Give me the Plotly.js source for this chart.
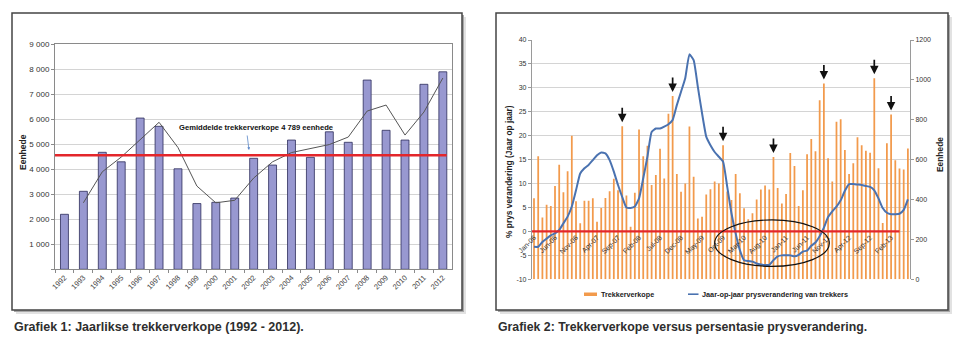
<!DOCTYPE html>
<html>
<head>
<meta charset="utf-8">
<script src="https://cdn.plot.ly/plotly-3.0.1.min.js"></script>
<style>
  html, body { margin: 0; padding: 0; background: #ffffff; }
  #chart { width: 960px; height: 343px; }
</style>
</head>
<body>
<div id="chart"></div>
<script>
// ---------- Chart 1 data: annual tractor sales ----------
const years = ['1992','1993','1994','1995','1996','1997','1998','1999','2000','2001','2002',
               '2003','2004','2005','2006','2007','2008','2009','2010','2011','2012'];
const annualSales = [2200, 3120, 4680, 4300, 6050, 5720, 4020, 2630, 2680, 2850, 4440,
                     4170, 5170, 4480, 5500, 5080, 7570, 5560, 5170, 7400, 7900];
// thin trend line
const trendLine = [null, 2660, 3900, 4490, 5170, 5880, 4870, 3330, 2660, 2760, 3650,
                   4300, 4670, 4820, 4990, 5290, 6330, 6570, 5370, 6290, 7650];
const averageLevel = 4560;   // level at which the red average line is drawn
const averageLabel = 'Gemiddelde trekkerverkope 4 789 eenhede';
const chart1YTicks = [0, 1000, 2000, 3000, 4000, 5000, 6000, 7000, 8000, 9000];
const chart1YText  = ['', '1 000', '2 000', '3 000', '4 000', '5 000', '6 000', '7 000', '8 000', '9 000'];

// ---------- Chart 2 data: monthly sales vs price change ----------
const monthAbbr = ['Jan','Feb','Mar','Apr','May','Jun','Jul','Aug','Sep','Oct','Nov','Dec'];
const months = [];
for (let y = 6; y <= 13; y++) {
  for (let m = 0; m < 12; m++) {
    if (y === 13 && m > 5) break;
    months.push(monthAbbr[m] + '-' + (y < 10 ? '0' + y : '' + y));
  }
}
const monthlyUnits = [406, 617, 310, 374, 367, 468, 574, 437, 542, 720,
                      391, 281, 394, 394, 406, 288, 358, 408, 442, 504,
                      446, 768, 420, 264, 434, 751, 617, 670, 473, 523,
                      655, 506, 830, 919, 528, 439, 480, 766, 514, 305,
                      314, 425, 451, 490, 480, 672, 440, 398, 528, 431,
                      356, 301, 331, 400, 450, 470, 450, 613, 458, 380,
                      428, 633, 568, 368, 446, 627, 704, 642, 898, 982,
                      607, 490, 790, 802, 648, 528, 582, 712, 672, 645,
                      635, 1008, 557, 282, 682, 827, 597, 555, 550, 656];
const priceChangePct = [-3.2, -3.2, -2.2, -1.5, -0.8, -0.4, 0.3, 1.7, 3.1, 5.2,
                        8.6, 12.1, 13.2, 13.9, 14.9, 15.9, 16.5, 16.3, 14.9, 12.5,
                        9.7, 7.2, 5.0, 4.9, 5.2, 6.9, 11.1, 15.6, 20.8, 21.5,
                        21.5, 21.9, 22.4, 23.3, 26.4, 29.2, 32.0, 37.0, 35.8, 30.2,
                        24.7, 19.8, 18.0, 16.6, 15.6, 14.6, 9.3, 3.8, -0.4, -3.9,
                        -6.0, -6.2, -6.3, -6.7, -6.9, -7.0, -7.0, -6.0, -5.2, -5.0,
                        -5.0, -5.0, -5.2, -4.9, -4.2, -4.0, -3.0, -2.3, -1.0, 0.8,
                        3.0, 4.2, 5.2, 6.5, 8.5, 9.9, 9.9, 9.8, 9.7, 9.5,
                        9.3, 8.6, 6.9, 4.9, 3.9, 3.6, 3.6, 3.7, 4.5, 6.7];
const tickMonths = ['Jan-06','Jun-06','Nov-06','Apr-07','Sep-07','Feb-08','Jul-08','Dec-08','May-09',
                    'Oct-09','Mar-10','Aug-10','Jan-11','Jun-11','Nov-11','Apr-12','Sep-12','Feb-13'];
const arrowMonths = ['Oct-07','Oct-08','Oct-09','Oct-10','Oct-11','Oct-12','Feb-13'];
const pctTicks = [-10, -5, 0, 5, 10, 15, 20, 25, 30, 35, 40];
const pctTickText = ['-10', '-5', '0', '5', '10', '15', '20', '25', '30', '35', '40'];
const unitTicks = [0, 200, 400, 600, 800, 1000, 1200];
const seriesNames = ['Trekkerverkope', 'Jaar-op-jaar prysverandering van trekkers'];

// ---------- helpers: pixel -> paper ----------
const W = 960, H = 343;
const px = x => x / W;
const py = y => 1 - y / H;
const SANS = 'Liberation Sans, Arial, sans-serif';

const traces = [
  { type: 'bar', x: years, y: annualSales, xaxis: 'x', yaxis: 'y',
    marker: { color: '#9898D0', line: { color: '#2C2C5A', width: 0.8 } },
    hoverinfo: 'x+y', showlegend: false },
  { type: 'scatter', mode: 'lines', x: years, y: trendLine, xaxis: 'x', yaxis: 'y',
    line: { color: '#555555', width: 1 }, connectgaps: false, showlegend: false },
  { type: 'bar', name: seriesNames[0], x: months, y: monthlyUnits, xaxis: 'x2', yaxis: 'y2',
    marker: { color: '#F29A4C' }, showlegend: false },
  { type: 'scatter', mode: 'lines', name: seriesNames[1], x: months, y: priceChangePct,
    xaxis: 'x2', yaxis: 'y3',
    line: { color: '#4A72B0', width: 2, shape: 'spline', smoothing: 0.45 }, showlegend: false }
];

const shapes = [];
function frame(x0, y0, x1, y1) {
  shapes.push({ type: 'rect', xref: 'paper', yref: 'paper', layer: 'below',
    x0: px(x0 + 4), x1: px(x1 + 4), y0: py(y1 + 4), y1: py(y0 + 4),
    fillcolor: '#e2e2e2', line: { width: 0 } });
  shapes.push({ type: 'rect', xref: 'paper', yref: 'paper', layer: 'below',
    x0: px(x0 + 2), x1: px(x1 + 2), y0: py(y1 + 2), y1: py(y0 + 2),
    fillcolor: '#a8a8a8', line: { width: 0 } });
  shapes.push({ type: 'rect', xref: 'paper', yref: 'paper', layer: 'below',
    x0: px(x0), x1: px(x1), y0: py(y1), y1: py(y0),
    fillcolor: '#ffffff', line: { color: '#444444', width: 1.5 } });
}
frame(12, 13, 462, 310);
frame(496, 13, 948, 310);

// red average line chart 1
shapes.push({ type: 'line', xref: 'x', yref: 'y', layer: 'above',
  x0: -0.5, x1: 20.2, y0: averageLevel, y1: averageLevel,
  line: { color: '#E3262B', width: 2.6 } });
// red zero line chart 2
shapes.push({ type: 'line', xref: 'x2', yref: 'y3', layer: 'above',
  x0: -0.5, x1: 87, y0: 0, y1: 0,
  line: { color: '#E3262B', width: 2.2 } });
// ellipse chart 2
shapes.push({ type: 'circle', xref: 'x2', yref: 'y3', layer: 'above',
  x0: 43.0, x1: 70.3, y0: -7.3, y1: 2.4,
  line: { color: '#111111', width: 1.2 } });
// manual legend symbols chart 2
shapes.push({ type: 'rect', xref: 'paper', yref: 'paper',
  x0: px(584), x1: px(597), y0: py(296), y1: py(292.5),
  fillcolor: '#F29A4C', line: { width: 0 } });
shapes.push({ type: 'line', xref: 'paper', yref: 'paper',
  x0: px(688), x1: px(698.5), y0: py(294.2), y1: py(294.2),
  line: { color: '#4A72B0', width: 1.6 } });

const annotations = [
  { xref: 'paper', yref: 'paper', x: px(177), y: py(128), xanchor: 'left', yanchor: 'middle',
    text: '<b>' + averageLabel + '</b>', showarrow: false,
    font: { family: SANS, size: 7.6, color: '#111' } },
  { xref: 'paper', yref: 'paper', x: px(249), y: py(150), ax: -2, ay: -16, text: '',
    showarrow: true, arrowhead: 2, arrowsize: 0.7, arrowwidth: 0.8, arrowcolor: '#5B86C8' },
  { xref: 'paper', yref: 'paper', x: px(23), y: py(152), xanchor: 'center', yanchor: 'middle',
    textangle: -90, text: '<b>Eenhede</b>', showarrow: false,
    font: { family: SANS, size: 8.5, color: '#222' } },
  { xref: 'paper', yref: 'paper', x: px(509), y: py(171), xanchor: 'center', yanchor: 'middle',
    textangle: -90, text: '<b>% prys verandering (Jaar op jaar)</b>', showarrow: false,
    font: { family: SANS, size: 8.4, color: '#222' } },
  { xref: 'paper', yref: 'paper', x: px(940), y: py(155), xanchor: 'center', yanchor: 'middle',
    textangle: -90, text: '<b>Eenhede</b>', showarrow: false,
    font: { family: SANS, size: 8.4, color: '#222' } },
  { xref: 'paper', yref: 'paper', x: px(598.5), y: py(294.5), xanchor: 'left', yanchor: 'middle',
    text: '<b>' + seriesNames[0] + '</b>', showarrow: false,
    font: { family: SANS, size: 7.2, color: '#222' } },
  { xref: 'paper', yref: 'paper', x: px(700), y: py(294.5), xanchor: 'left', yanchor: 'middle',
    text: '<b>' + seriesNames[1] + '</b>', showarrow: false,
    font: { family: SANS, size: 7.3, color: '#222' } },
  { xref: 'paper', yref: 'paper', x: px(12), y: py(327), xanchor: 'left', yanchor: 'middle',
    text: 'Grafiek 1: Jaarlikse trekkerverkope (1992 - 2012).', showarrow: false,
    font: { family: SANS, size: 12.5, weight: 'bold', color: '#2e2e2e' } },
  { xref: 'paper', yref: 'paper', x: px(496), y: py(327), xanchor: 'left', yanchor: 'middle',
    text: 'Grafiek 2: Trekkerverkope versus persentasie prysverandering.', showarrow: false,
    font: { family: SANS, size: 12.3, weight: 'bold', color: '#2e2e2e' } }
];
arrowMonths.forEach(m => {
  const i = months.indexOf(m);
  annotations.push({ xref: 'x2', yref: 'y2', x: i, y: monthlyUnits[i], text: '',
    showarrow: true, ax: 0, ay: -20, standoff: 4, arrowhead: 2, arrowsize: 1,
    arrowwidth: 1.7, arrowcolor: '#111111' });
});

const layout = {
  width: W, height: H,
  margin: { l: 0, r: 0, t: 0, b: 0, pad: 0 },
  paper_bgcolor: '#ffffff', plot_bgcolor: 'rgba(0,0,0,0)',
  showlegend: false, bargap: 0.58, separators: '. ',
  font: { family: SANS, color: '#333' },
  xaxis: { domain: [px(55), px(452.3)], anchor: 'y', type: 'category', range: [-0.5, 20.5],
    color: '#444444',
    tickangle: -45, tickfont: { size: 7.5, color: '#444' }, showline: true, linecolor: '#8a8a8a',
    mirror: true, ticks: 'outside', tickson: 'boundaries', ticklen: 3, tickcolor: '#8a8a8a',
    showgrid: false, fixedrange: true },
  yaxis: { domain: [py(269.3), py(44.3)], anchor: 'x', range: [0, 9000], color: '#444444',
    tickmode: 'array', tickvals: chart1YTicks, ticktext: chart1YText,
    tickfont: { size: 8, color: '#333' }, showline: true, linecolor: '#8a8a8a', mirror: true,
    ticks: 'outside', ticklen: 3, tickcolor: '#8a8a8a', gridcolor: '#d4d4d4', zeroline: false,
    fixedrange: true },
  xaxis2: { domain: [px(531.9), px(910)], anchor: 'free', position: py(231.3), type: 'category',
    color: '#444444',
    range: [-0.5, 89.5], tickmode: 'array', tickvals: tickMonths, ticktext: tickMonths,
    tickangle: -45, tickfont: { size: 7, color: '#333' }, showline: false,
    ticks: '', showgrid: false, ticklabelstandoff: 0, fixedrange: true },
  yaxis2: { domain: [py(279.3), py(40)], anchor: 'x2', side: 'right', range: [0, 1200],
    color: '#444444',
    tickmode: 'array', tickvals: unitTicks, showgrid: false, showline: true, linecolor: '#9a9a9a',
    ticks: 'outside', ticklen: 3, tickcolor: '#9a9a9a', tickfont: { size: 7, color: '#333333' },
    zeroline: false, fixedrange: true },
  yaxis3: { overlaying: 'y2', anchor: 'x2', side: 'left', range: [-10, 40], color: '#444444',
    tickmode: 'array', tickvals: pctTicks, ticktext: pctTickText,
    showgrid: true, gridcolor: '#d4d4d4', showline: true, linecolor: '#9a9a9a',
    ticks: 'outside', ticklen: 3, tickcolor: '#9a9a9a', tickfont: { size: 7, color: '#333333' },
    zeroline: false, fixedrange: true },
  shapes: shapes,
  annotations: annotations
};

Plotly.newPlot('chart', traces, layout, { displayModeBar: false, staticPlot: true });
</script>
</body>
</html>
